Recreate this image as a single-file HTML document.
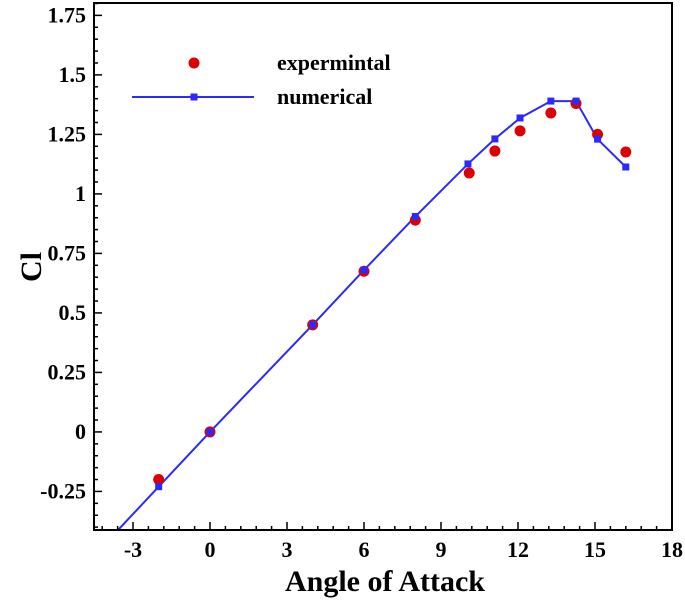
<!DOCTYPE html>
<html><head><meta charset="utf-8"><style>
html,body{margin:0;padding:0;background:#fff;}
svg{display:block;font-family:"Liberation Serif",serif;font-weight:bold;}
</style></head><body>
<svg id="chart" width="685" height="602" viewBox="0 0 685 602">
<defs><clipPath id="clip"><rect x="94" y="3" width="578" height="527"/></clipPath></defs>
<g id="plot" clip-path="url(#clip)"></g>
<g id="axes"></g>
</svg>
<script>
const expAlpha=[-2,0,4,6,8,10.1,11.1,12.08,13.28,14.26,15.1,16.2];
const expCl=[-0.2,0,0.45,0.675,0.89,1.088,1.18,1.265,1.34,1.38,1.25,1.176];
const numAlpha=[-4,-2,0,4,6,8,10.05,11.1,12.08,13.28,14.26,15.1,16.2];
const numCl=[-0.46,-0.23,0,0.45,0.68,0.905,1.126,1.231,1.319,1.39,1.39,1.23,1.113];
const xTicks=[-3,0,3,6,9,12,15,18];
const yTicks=[-0.25,0,0.25,0.5,0.75,1,1.25,1.5,1.75];
const yLabels=["-0.25","0","0.25","0.5","0.75","1","1.25","1.5","1.75"];
const X0=94,X1=672,Y0=530,Y1=3,XMIN=-4.52,XMAX=18,YMIN=-0.412,YMAX=1.802;
function sx(v){return X0+(v-XMIN)/(XMAX-XMIN)*(X1-X0);}
function sy(v){return Y0-(v-YMIN)/(YMAX-YMIN)*(Y0-Y1);}
const NS="http://www.w3.org/2000/svg";
function mk(t,a,p){const e=document.createElementNS(NS,t);for(const k in a)e.setAttribute(k,a[k]);p.appendChild(e);return e;}
const plot=document.getElementById('plot'),axes=document.getElementById('axes'),svg=document.getElementById('chart');
const pl=mk('polyline',{points:numAlpha.map((a,i)=>sx(a)+','+sy(numCl[i])).join(' '),fill:'none',stroke:'#2a2aff','stroke-width':2},plot);


expAlpha.forEach((a,i)=>{const c=mk('circle',{cx:sx(a),cy:sy(expCl[i]),r:5.5,fill:'#dd0000'},plot);

});
numAlpha.forEach((a,i)=>{const r=mk('rect',{x:sx(a)-3.5,y:sy(numCl[i])-3.5,width:7,height:7,fill:'#2a2aff'},plot);

});
const fr=mk('rect',{x:X0,y:Y1,width:X1-X0,height:Y0-Y1,fill:'none',stroke:'#000','stroke-width':2},axes);


for(let v=-4.2;v<=18.01;v+=0.6){const x=sx(v);const major=Math.abs(v/3-Math.round(v/3))<0.01;
mk('line',{x1:x,x2:x,y1:Y0,y2:Y0-(major?8:4),stroke:'#000','stroke-width':1.5},axes);}
xTicks.forEach(v=>{const t=mk('text',{x:sx(v),y:557,'text-anchor':'middle','font-size':22},axes);t.textContent=v;

});
for(let v=-0.4;v<=1.801;v+=0.05){const y=sy(v);const major=Math.abs(v/0.25-Math.round(v/0.25))<0.01;
mk('line',{x1:X0,x2:X0+(major?8:4),y1:y,y2:y,stroke:'#000','stroke-width':1.5},axes);}
yTicks.forEach((v,i)=>{const t=mk('text',{x:86,y:sy(v)+7,'text-anchor':'end','font-size':22},axes);t.textContent=yLabels[i];

});
</script>
<script>
(function(){const svg=document.getElementById('chart');const NS="http://www.w3.org/2000/svg";
function mk(t,a){const e=document.createElementNS(NS,t);for(const k in a)e.setAttribute(k,a[k]);svg.appendChild(e);return e;}
let t=mk('text',{x:385,y:591,'text-anchor':'middle','font-size':30});t.textContent='Angle of Attack';


t=mk('text',{x:41,y:267,'text-anchor':'middle','font-size':30,transform:'rotate(-90 41 267)'});t.textContent='Cl';


let c=mk('circle',{cx:194,cy:63,r:5.5,fill:'#dd0000'});


t=mk('text',{x:277,y:70,'font-size':22});t.textContent='expermintal';


let l=mk('line',{x1:132,x2:254,y1:97,y2:97,stroke:'#2a2aff','stroke-width':2});


let r=mk('rect',{x:190.5,y:93.5,width:7,height:7,fill:'#2a2aff'});


t=mk('text',{x:277,y:104,'font-size':22});t.textContent='numerical';


})();
</script>
</body></html>
